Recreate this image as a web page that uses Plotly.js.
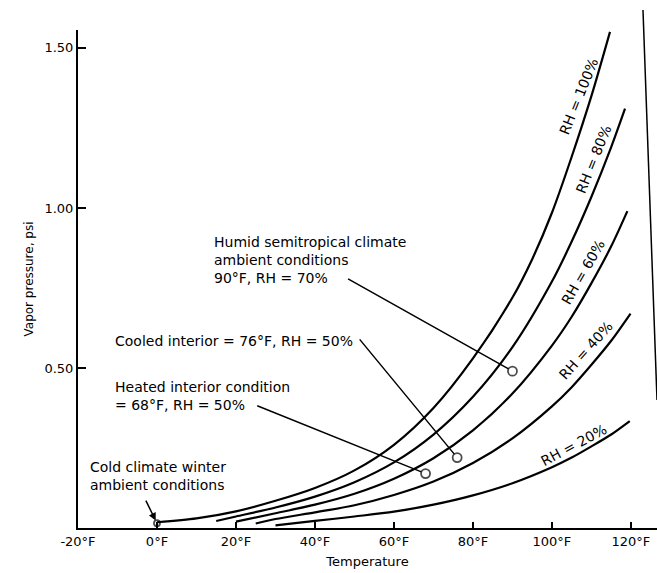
<!DOCTYPE html>
<html>
<head>
<meta charset="utf-8">
<script src="https://cdn.plot.ly/plotly-3.0.1.min.js"></script>
<style>html,body{margin:0;padding:0;background:#fff;}#chart{width:657px;height:573px;}</style>
</head>
<body>
<div id="chart"></div>
<script>
// ---- Data (temperature in °F, vapor pressure in psi) ----
const temps100 = [0, 10, 20, 30, 40, 50, 60, 70, 80, 90, 95, 100, 105, 110, 114.7];
const rh100    = [0.018, 0.03, 0.052, 0.085, 0.125, 0.18, 0.26, 0.375, 0.53, 0.72, 0.84, 0.985, 1.16, 1.35, 1.55];

const temps80 = [15, 20, 30, 40, 50, 60, 70, 80, 90, 100, 105, 110, 115, 118.5];
const rh80    = [0.022, 0.036, 0.064, 0.098, 0.143, 0.205, 0.292, 0.41, 0.565, 0.77, 0.895, 1.035, 1.19, 1.31];

const temps60 = [20, 30, 40, 50, 60, 70, 80, 90, 100, 105, 110, 115, 119.1];
const rh60    = [0.02, 0.046, 0.073, 0.107, 0.154, 0.218, 0.305, 0.42, 0.57, 0.66, 0.765, 0.88, 0.99];

const temps40 = [25, 30, 40, 50, 60, 70, 80, 90, 100, 105, 110, 115, 119.9];
const rh40    = [0.014, 0.028, 0.049, 0.071, 0.103, 0.145, 0.203, 0.28, 0.38, 0.44, 0.51, 0.585, 0.67];

const temps20 = [30, 40, 50, 60, 70, 80, 90, 100, 105, 110, 115, 119.7];
const rh20    = [0.008, 0.022, 0.036, 0.051, 0.073, 0.102, 0.14, 0.19, 0.22, 0.255, 0.292, 0.334];

const curveLabels = ["RH = 100%", "RH = 80%", "RH = 60%", "RH = 40%", "RH = 20%"];

// marked conditions: cold winter, heated interior, cooled interior, humid semitropical
const condTemps = [0, 68, 76, 90];
const condVP    = [0.015, 0.17, 0.22, 0.49];

const xTickVals = [-20, 0, 20, 40, 60, 80, 100, 120];
const xTickText = ["-20°F", "0°F", "20°F", "40°F", "60°F", "80°F", "100°F", "120°F"];
const yTickVals = [0.5, 1.0, 1.5];
const yTickText = ["0.50", "1.00", "1.50"];

// ---- Drawing ----
const FONT = "DejaVu Sans";
const lineStyle = {color: "#000", width: 2.2, shape: "spline", smoothing: 0.8};
function curve(x, y) {
  return {x: x, y: y, type: "scatter", mode: "lines", line: lineStyle, hoverinfo: "skip"};
}
const traces = [
  curve(temps100, rh100),
  curve(temps80, rh80),
  curve(temps60, rh60),
  curve(temps40, rh40),
  curve(temps20, rh20),
  {x: condTemps, y: condVP, type: "scatter", mode: "markers", hoverinfo: "skip",
   marker: {symbol: "circle-open", size: [6, 9, 9, 9], color: "#000", line: {width: 1.8, color: "#000"}}}
];

const labelPos = [
  {x: 106.8, y: 1.35, a: -68},
  {x: 110.5, y: 1.154, a: -68},
  {x: 107.9, y: 0.80, a: -60},
  {x: 108.7, y: 0.555, a: -48},
  {x: 105.6, y: 0.258, a: -28}
];
const annotations = curveLabels.map((t, i) => ({
  x: labelPos[i].x, y: labelPos[i].y, xref: "x", yref: "y", text: t, showarrow: false,
  textangle: labelPos[i].a, font: {family: FONT, size: 14, color: "#000"}
}));

function note(text, x, y) {
  return {x: x, y: y, xref: "x", yref: "y", text: text, showarrow: false, align: "left",
          xanchor: "left", yanchor: "middle", font: {family: FONT, size: 14, color: "#000"}};
}
annotations.push(note("Humid semitropical climate<br>ambient conditions<br>90°F, RH = 70%", 13.9, 0.8375));
annotations.push(note("Cooled interior = 76°F, RH = 50%", -11.1, 0.584));
annotations.push(note("Heated interior condition<br>= 68°F, RH = 50%", -11.1, 0.414));
annotations.push(note("Cold climate winter<br>ambient conditions", -17.5, 0.1625));

function leader(x0, y0, i, head) {
  return {x: condTemps[i], y: condVP[i], ax: x0, ay: y0, xref: "x", yref: "y", axref: "x", ayref: "y",
          text: "", showarrow: true, arrowhead: head, arrowsize: 1, arrowwidth: 1.5, arrowcolor: "#000",
          standoff: head ? 3 : 4.5};
}
annotations.push(leader(48.0, 0.781, 3, 0));
annotations.push(leader(51.0, 0.594, 2, 0));
annotations.push(leader(25.0, 0.384, 1, 0));
annotations.push(leader(-3.0, 0.09, 0, 2));

const layout = {
  width: 657, height: 573,
  margin: {l: 78, r: 0, t: 30, b: 45},
  paper_bgcolor: "#fff", plot_bgcolor: "#fff",
  showlegend: false,
  font: {family: FONT, color: "#000"},
  xaxis: {
    range: [-20, 126.6], showline: true, linecolor: "#000", linewidth: 2, mirror: false,
    showgrid: false, zeroline: false, ticks: "inside", ticklen: 6, tickwidth: 1.5, tickcolor: "#000",
    tickvals: xTickVals, ticktext: xTickText, tickfont: {family: FONT, size: 13, color: "#000"},
    title: {text: "Temperature", font: {family: FONT, size: 13, color: "#000"}, standoff: 9}
  },
  yaxis: {
    range: [0, 1.556], showline: true, linecolor: "#000", linewidth: 2,
    showgrid: false, zeroline: false, ticks: "inside", ticklen: 8, tickwidth: 1.5, tickcolor: "#000",
    tickvals: yTickVals, ticktext: yTickText, tickfont: {family: FONT, size: 13, color: "#000"},
    title: {text: "Vapor pressure, psi", font: {family: FONT, size: 12, color: "#000"}, standoff: 8}
  },
  annotations: annotations,
  shapes: [
    {type: "line", xref: "paper", yref: "paper", x0: 0.9758, y0: 1.04, x1: 1.0, y1: 0.257,
     line: {color: "#000", width: 1.5}}
  ]
};

Plotly.newPlot("chart", traces, layout, {staticPlot: true, displayModeBar: false});
</script>
</body>
</html>
